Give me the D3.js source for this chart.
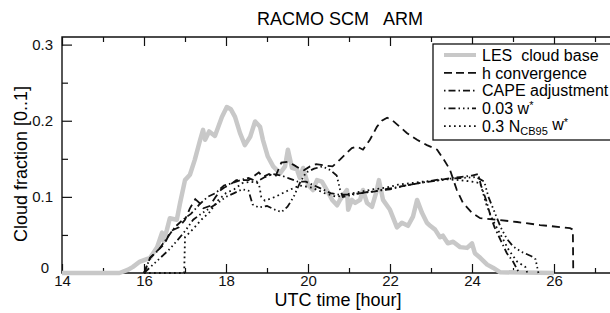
<!DOCTYPE html>
<html>
<head>
<meta charset="utf-8">
<script src="https://cdn.jsdelivr.net/npm/d3@7"></script>
<style>
body { margin: 0; background: white; }
svg { display: block; font-family: "Liberation Sans", Arial, sans-serif; }
</style>
</head>
<body>
<svg></svg>
<script>
var screen = {width: 610, height: 313};
var margins = {top: 37, right: -26, bottom: 40, left: 62};

// LES cloud base (grey), [hour, cloud fraction]
var les = [[14,0],[15.4,0],[15.6,0.004],[15.73,0.008],[15.9,0.015],[16.15,0.02],[16.32,0.034],[16.44,0.053],
  [16.48,0.042],[16.56,0.057],[16.63,0.072],[16.8,0.07],[16.88,0.092],[17.0,0.122],[17.12,0.129],[17.24,0.149],
  [17.37,0.175],[17.44,0.188],[17.49,0.175],[17.59,0.186],[17.73,0.18],[17.9,0.205],[18.02,0.218],[18.12,0.215],
  [18.22,0.205],[18.34,0.184],[18.46,0.168],[18.59,0.179],[18.71,0.199],[18.83,0.192],[18.9,0.175],[19.02,0.153],
  [19.15,0.14],[19.32,0.131],[19.44,0.14],[19.51,0.162],[19.61,0.138],[19.73,0.136],[19.8,0.125],[19.88,0.138],
  [20.0,0.116],[20.12,0.109],[20.22,0.122],[20.34,0.12],[20.46,0.109],[20.59,0.096],[20.71,0.089],[20.78,0.096],
  [20.95,0.109],[20.98,0.083],[21.07,0.096],[21.15,0.092],[21.27,0.096],[21.34,0.109],[21.44,0.092],[21.56,0.087],
  [21.68,0.109],[21.73,0.122],[21.83,0.096],[22.0,0.083],[22.17,0.06],[22.29,0.066],[22.44,0.062],[22.56,0.074],
  [22.66,0.096],[22.78,0.079],[22.9,0.066],[22.98,0.062],[23.1,0.057],[23.22,0.047],[23.29,0.049],[23.41,0.039],
  [23.54,0.041],[23.71,0.034],[23.88,0.033],[24.0,0.039],[24.07,0.026],[24.2,0.02],[24.37,0.011],[24.51,0.007],
  [24.68,0.001],[26.0,0]];

// h convergence (dashed)
var hConv = [[16.0,0],[16.15,0.02],[16.3,0.028],[16.5,0.038],[16.65,0.055],[16.85,0.06],[17.0,0.07],[17.12,0.085],
  [17.25,0.097],[17.35,0.092],[17.45,0.085],[17.6,0.088],[17.75,0.1],[17.85,0.108],[17.95,0.112],[18.1,0.116],
  [18.25,0.122],[18.4,0.122],[18.55,0.122],[18.7,0.128],[18.8,0.132],[18.9,0.126],[19.05,0.13],[19.2,0.126],
  [19.35,0.145],[19.5,0.146],[19.65,0.142],[19.8,0.137],[19.9,0.135],[20.05,0.14],[20.2,0.143],[20.45,0.141],
  [20.6,0.14],[20.78,0.149],[20.95,0.158],[21.07,0.164],[21.2,0.166],[21.34,0.162],[21.51,0.175],[21.68,0.192],
  [21.8,0.2],[21.93,0.204],[22.07,0.2],[22.24,0.192],[22.41,0.184],[22.66,0.175],[22.9,0.168],[23.15,0.162],
  [23.3,0.15],[23.46,0.136],[23.63,0.109],[23.78,0.092],[24.0,0.079],[24.2,0.072],[24.6,0.07],[25.1,0.067],
  [25.66,0.063],[26.39,0.059],[26.46,0.057],[26.47,0]];

// CAPE adjustment (dash-dot)
var cape = [[16.0,0],[16.15,0.02],[16.35,0.03],[16.55,0.045],[16.75,0.06],[16.95,0.07],[17.15,0.078],[17.35,0.09],
  [17.55,0.1],[17.75,0.105],[17.95,0.115],[18.15,0.118],[18.35,0.122],[18.55,0.125],[18.75,0.12],[18.95,0.126],
  [19.15,0.13],[19.35,0.128],[19.55,0.124],[19.75,0.12],[19.95,0.12],[20.15,0.115],[20.35,0.11],[20.55,0.105],
  [20.75,0.103],[21.0,0.103],[21.3,0.105],[21.6,0.107],[21.9,0.11],[22.2,0.113],[22.5,0.116],[22.8,0.119],
  [23.1,0.121],[23.4,0.124],[23.7,0.126],[24.0,0.128],[24.15,0.13],[24.22,0.115],[24.35,0.095],[24.45,0.075],
  [24.55,0.06],[24.7,0.043],[24.85,0.026],[25.0,0.015],[25.1,0.005],[25.15,0]];

// 0.03 w* (dash-dot-dot)
var wStar = [[16.0,0],[16.2,0.01],[16.4,0.02],[16.6,0.03],[16.8,0.042],[17.0,0.055],[17.2,0.07],[17.4,0.078],
  [17.6,0.085],[17.8,0.092],[18.0,0.1],[18.2,0.105],[18.4,0.11],[18.55,0.108],[18.65,0.09],[18.8,0.086],
  [19.0,0.088],[19.2,0.083],[19.35,0.08],[19.5,0.087],[19.65,0.1],[19.8,0.118],[19.95,0.132],[20.15,0.137],
  [20.35,0.14],[20.55,0.135],[20.7,0.128],[20.78,0.11],[20.85,0.1],[21.1,0.103],[21.4,0.106],[21.7,0.108],
  [22.0,0.11],[22.3,0.114],[22.6,0.117],[22.9,0.12],[23.2,0.123],[23.5,0.124],[23.8,0.125],[24.1,0.126],
  [24.3,0.12],[24.4,0.1],[24.55,0.08],[24.7,0.06],[24.85,0.045],[25.0,0.035],[25.2,0.028],[25.45,0.022],
  [25.55,0.018],[25.62,0]];

// 0.3 N_CB95 w* (dotted)
var nStar = [[16.0,0],[16.98,0],[17.0,0.047],[17.2,0.058],[17.4,0.07],[17.6,0.08],[17.8,0.095],[18.0,0.105],
  [18.2,0.11],[18.4,0.118],[18.6,0.12],[18.8,0.118],[18.86,0.1],[18.95,0.095],[19.2,0.1],[19.5,0.108],
  [19.8,0.115],[20.1,0.112],[20.4,0.105],[20.7,0.1],[21.0,0.104],[21.3,0.107],[21.6,0.11],[21.9,0.112],
  [22.2,0.116],[22.5,0.118],[22.8,0.12],[23.1,0.121],[23.4,0.123],[23.7,0.122],[24.0,0.12],[24.2,0.118],
  [24.35,0.09],[24.5,0.07],[24.7,0.05],[24.9,0.03],[25.1,0.015],[25.3,0.008],[25.35,0]];

var xMajor = [14, 16, 18, 20, 22, 24, 26];
var xMinor = [15, 17, 19, 21, 23, 25, 27];
var yMajor = [0, 0.1, 0.2, 0.3];
var yMinor = [0.05, 0.15, 0.25];
var yLabels = ["0", "0.1", "0.2", "0.3"];

var legendNames = ["LES  cloud base", "h convergence", "CAPE adjustment", "0.03 w", "0.3 N"];

var setup = function()
{
    var svg = d3.select("svg")
    .attr("width", screen.width)
    .attr("height", screen.height);

    var width = screen.width - margins.left - margins.right;
    var height = screen.height - margins.top - margins.bottom;

    var xScale = d3.scaleLinear().domain([14, 28]).range([0, width]);
    var yScale = d3.scaleLinear().domain([0, 0.31]).range([height, 0]);

    var graph = svg.append("g")
    .attr("id", "graph")
    .attr("transform", "translate(" + margins.left + "," + margins.top + ")");

    drawAxes(svg, graph, xScale, yScale, width, height);
    drawLines(graph, xScale, yScale);
    drawLegend(svg);

    svg.append("text")
    .attr("x", 340).attr("y", 25)
    .attr("text-anchor", "middle")
    .style("font-size", "18px")
    .style("white-space", "pre")
    .text("RACMO SCM   ARM");

    svg.append("text")
    .attr("x", 338).attr("y", 306)
    .attr("text-anchor", "middle")
    .style("font-size", "18px")
    .text("UTC time [hour]");

    svg.append("text")
    .attr("transform", "translate(27,164) rotate(-90)")
    .attr("text-anchor", "middle")
    .style("font-size", "18px")
    .text("Cloud fraction [0..1]");
}

var drawAxes = function(svg, graph, xScale, yScale, width, height)
{
    var axes = graph.append("g").classed("axis", true);

    axes.append("g")
    .attr("transform", "translate(0," + height + ")")
    .call(d3.axisBottom(xScale).tickValues(xMinor).tickSize(-5).tickFormat(""));
    axes.append("g")
    .attr("transform", "translate(0," + height + ")")
    .call(d3.axisBottom(xScale).tickValues(xMajor).tickSize(-9).tickPadding(2).tickFormat(d3.format("d")));

    axes.append("g")
    .call(d3.axisTop(xScale).tickValues(xMinor).tickSize(-5).tickFormat(""));
    axes.append("g")
    .call(d3.axisTop(xScale).tickValues(xMajor).tickSize(-9).tickFormat(""));

    axes.append("g")
    .call(d3.axisLeft(yScale).tickValues(yMinor).tickSize(-6).tickFormat(""));
    axes.append("g")
    .attr("id", "yAxis")
    .call(d3.axisLeft(yScale).tickValues(yMajor).tickSize(-10).tickPadding(9)
        .tickFormat(function(d, i){ return yLabels[i]; }));

    axes.selectAll("path.domain").remove();
    axes.selectAll("line").attr("stroke", "#111").attr("stroke-width", 1.2);
    axes.selectAll("text").style("font-size", "15px").attr("fill", "#111")
        .style("font-family", "'Liberation Sans', Arial, sans-serif");

    // the "0" sits a little above and left of the corner
    axes.select("#yAxis").selectAll("text")
    .filter(function(d){ return d === 0; })
    .attr("dy", "-0.05em").attr("x", -13);

    // frame (the right side lies outside the picture)
    graph.append("path")
    .attr("d", "M" + width + ",0H0V" + height + "H" + width)
    .attr("fill", "none")
    .attr("stroke", "#111")
    .attr("stroke-width", 1.4);
}

var drawLines = function(graph, xScale, yScale)
{
    var line = d3.line()
    .x(function(d){ return xScale(d[0]); })
    .y(function(d){ return yScale(d[1]); });

    graph.append("path").datum(les)
    .attr("d", line)
    .attr("fill", "none").attr("stroke", "#c8c8c8").attr("stroke-width", 4.5)
    .attr("stroke-linejoin", "round");

    var styles = [
        {data: hConv, dash: "8,5"},
        {data: cape, dash: "7,3,1.5,3"},
        {data: wStar, dash: "7,3,1.5,3,1.5,3,1.5,3"},
        {data: nStar, dash: "1.7,3.3"}
    ];

    graph.selectAll(".model")
    .data(styles)
    .enter()
    .append("path")
    .classed("model", true)
    .attr("d", function(d){ return line(d.data); })
    .attr("fill", "none")
    .attr("stroke", "#111")
    .attr("stroke-width", 1.8)
    .attr("stroke-dasharray", function(d){ return d.dash; });
}

var drawLegend = function(svg)
{
    var legend = svg.append("g").attr("id", "legend");

    legend.append("rect")
    .attr("x", 433).attr("y", 44)
    .attr("width", 200).attr("height", 96)
    .attr("fill", "white")
    .attr("stroke", "#111")
    .attr("stroke-width", 1.3);

    var rows = [
        {stroke: "#c8c8c8", width: 4, dash: null},
        {stroke: "#111", width: 1.8, dash: "8,4"},
        {stroke: "#111", width: 1.8, dash: "1.5,3,7,3"},
        {stroke: "#111", width: 1.8, dash: "1.5,3,7,3,1.5,3,1.5,3"},
        {stroke: "#111", width: 1.8, dash: "1.7,3.3"}
    ];

    var rowY = function(i){ return 55 + i * 17.8; };

    legend.selectAll("line")
    .data(rows)
    .enter()
    .append("line")
    .attr("x1", 444).attr("x2", 476)
    .attr("y1", function(d, i){ return rowY(i); })
    .attr("y2", function(d, i){ return rowY(i); })
    .attr("stroke", function(d){ return d.stroke; })
    .attr("stroke-width", function(d){ return d.width; })
    .attr("stroke-dasharray", function(d){ return d.dash; });

    var texts = legend.selectAll("text")
    .data(legendNames)
    .enter()
    .append("text")
    .attr("x", 482)
    .attr("y", function(d, i){ return rowY(i); })
    .attr("dy", "0.36em")
    .style("font-size", "16px")
    .style("white-space", "pre")
    .text(function(d){ return d; });

    var t3 = texts.filter(function(d, i){ return i === 3; });
    t3.append("tspan").attr("dy", "-0.45em").style("font-size", "11px").text("*");

    var t4 = texts.filter(function(d, i){ return i === 4; });
    t4.append("tspan").attr("dy", "0.3em").style("font-size", "11px").text("CB95");
    t4.append("tspan").attr("dy", "-0.3em").text(" w");
    t4.append("tspan").attr("dy", "-0.45em").style("font-size", "11px").text("*");
}

setup();
</script>
</body>
</html>
